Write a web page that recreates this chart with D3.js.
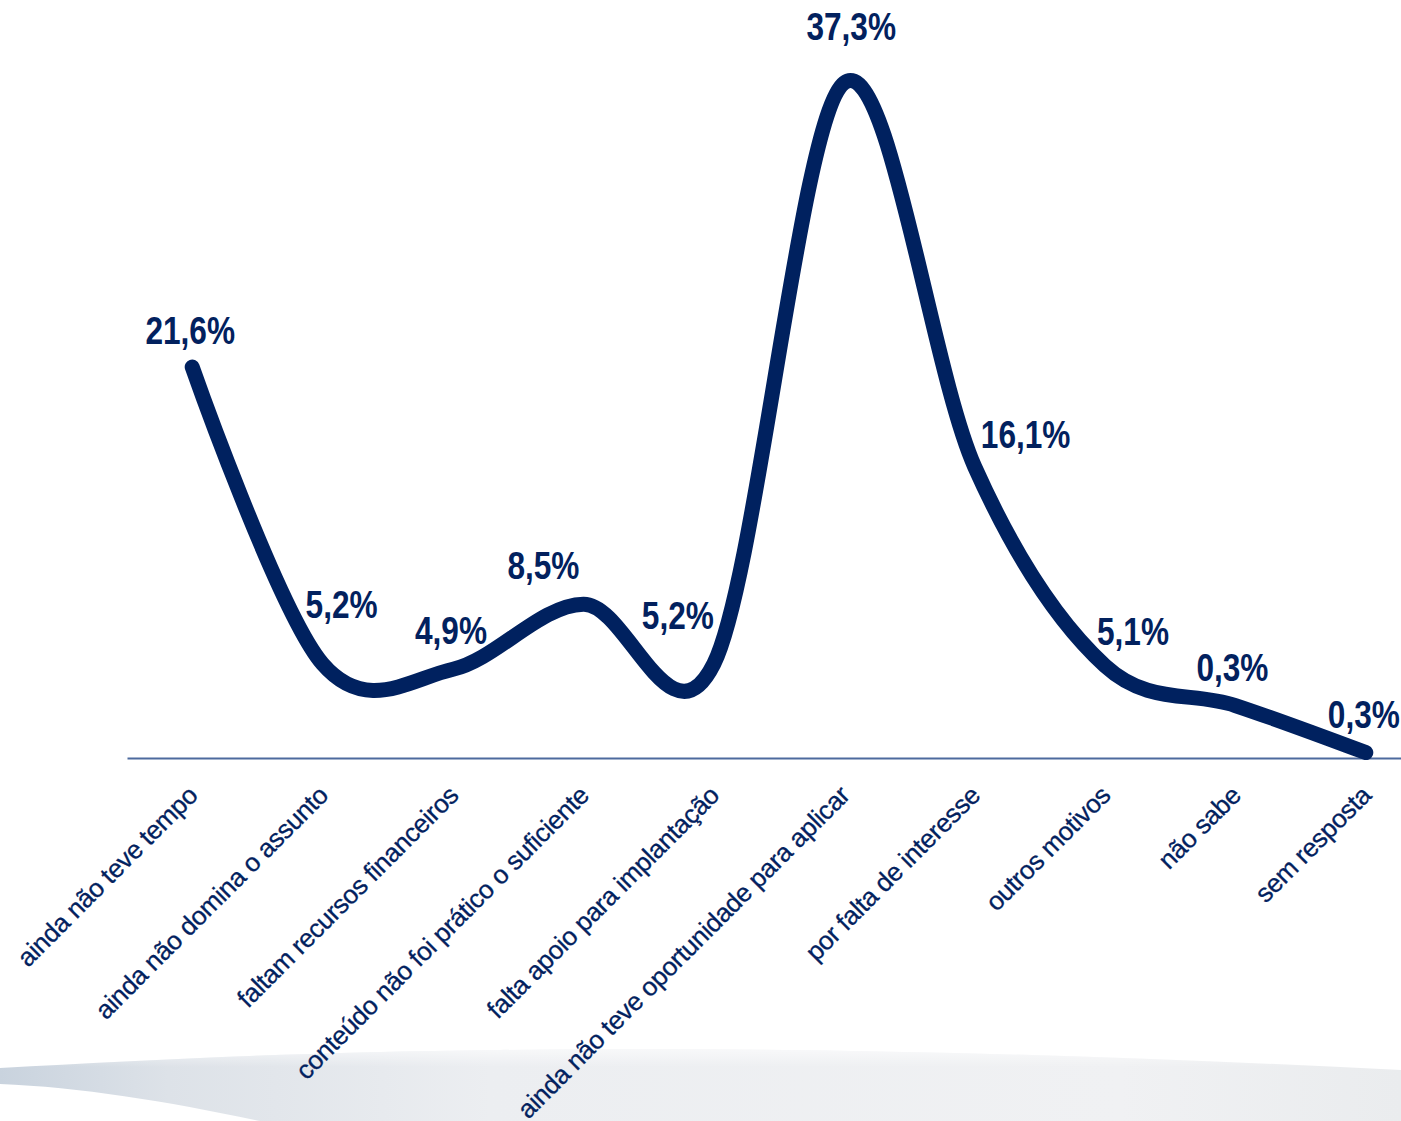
<!DOCTYPE html>
<head>
    <meta charset="utf-8">
    <style>
        body{
            margin:0;
            background:#fff;
        }
        svg{
            display:block;
        }
        .line{
            fill:none;
            stroke:#00215f;
            stroke-width:15px;
            stroke-linecap:round;
            stroke-linejoin:round;
        }
        .val{
            font-family:'Liberation Sans',Arial,sans-serif;
            font-weight:bold;
            font-size:39px;
            fill:#02215e;
        }
        .axis text{
            font-family:'Liberation Sans',Arial,sans-serif;
            font-size:26px;
            fill:#02215e;
            stroke:#02215e;
            stroke-width:0.3px;
            letter-spacing:-0.4px;
        }
        .axis .domain{
            stroke:#4d6a9e;
            stroke-width:2px;
        }
    </style>
</head>
<body>
    <div id="chart"></div>
    <script src="https://d3js.org/d3.v7.min.js"></script>
    <script>
        var categories = ["ainda não teve tempo", "ainda não domina o assunto", "faltam recursos financeiros",
            "conteúdo não foi prático o suficiente", "falta apoio para implantação",
            "ainda não teve oportunidade para aplicar", "por falta de interesse", "outros motivos",
            "não sabe", "sem resposta"];
        // values as the line is drawn (não sabe sits higher than its label says)
        var values = [21.6, 5.2, 4.9, 8.5, 5.2, 37.3, 16.1, 5.1, 2.9, 0.3];
        var valueLabels = ["21,6%", "5,2%", "4,9%", "8,5%", "5,2%", "37,3%", "16,1%", "5,1%", "0,3%", "0,3%"];
        // hand placed label offsets, like the original
        var labelNudge = [[-2,-23],[19,-46],[-2,-25],[-40,-25],[-36,-35],[7,-43],[51,-19],[28,-21],[-3,-25],[-2,-25]];

        var width = 1401, height = 1121;

        var svg = d3.select("#chart").append("svg")
            .attr("width", width)
            .attr("height", height);

        var defs = svg.append("defs");
        var grad = defs.append("linearGradient").attr("id", "swoosh")
            .attr("x1", "0").attr("x2", "1").attr("y1", "0").attr("y2", "0");
        grad.append("stop").attr("offset", "0").attr("stop-color", "#c9d3de");
        grad.append("stop").attr("offset", "0.12").attr("stop-color", "#dde2e8");
        grad.append("stop").attr("offset", "0.35").attr("stop-color", "#eceef1");
        grad.append("stop").attr("offset", "0.8").attr("stop-color", "#f0f1f3");
        grad.append("stop").attr("offset", "1").attr("stop-color", "#eaecee");
        var fade = defs.append("linearGradient").attr("id", "fade")
            .attr("x1", "0").attr("x2", "0").attr("y1", "0").attr("y2", "1");
        fade.append("stop").attr("offset", "0").attr("stop-color", "#fff").attr("stop-opacity", 0.6);
        fade.append("stop").attr("offset", "0.25").attr("stop-color", "#fff").attr("stop-opacity", 0);

        // background swoosh at the bottom
        var swooshPath = "M0,1068 C150,1060 300,1052 500,1050 C800,1046 1100,1055 1401,1070 L1401,1121 L260,1121 C170,1102 80,1087 0,1084 Z";
        svg.append("path").attr("fill", "url(#swoosh)").attr("d", swooshPath);
        svg.append("path").attr("fill", "url(#fade)").attr("d", swooshPath);

        var x = d3.scaleBand()
            .domain(categories)
            .range([127, 1431]);

        var y = d3.scaleLinear()
            .domain([0, 40])
            .range([758, 34]);

        var cx = function(d, i) { return x(categories[i]) + x.bandwidth() / 2; };

        var g = svg.append("g");

        g.append("g")
            .attr("class", "axis")
            .attr("transform", "translate(0," + y(0) + ")")
            .call(d3.axisBottom(x).tickSize(0).tickSizeOuter(0))
            .selectAll("text")
                .attr("x", 0)
                .attr("y", 0)
                .attr("dy", 0)
                .attr("text-anchor", "end")
                .attr("transform", "translate(7,39) rotate(-45)");

        var line = d3.line()
            .x(cx)
            .y(function(d) { return y(d); })
            .curve(d3.curveCardinal.tension(0));

        g.append("path")
            .datum(values)
            .attr("class", "line")
            .attr("d", line);

        // narrow bold look: squeeze the bold face horizontally
        g.selectAll(".val")
            .data(values)
            .enter().append("text")
                .attr("class", "val")
                .attr("text-anchor", "middle")
                .attr("transform", function(d, i) {
                    return "translate(" + (cx(d, i) + labelNudge[i][0]) + "," + (y(d) + labelNudge[i][1]) + ") scale(0.81,1)";
                })
                .text(function(d, i) { return valueLabels[i]; });
    </script>
</body>
